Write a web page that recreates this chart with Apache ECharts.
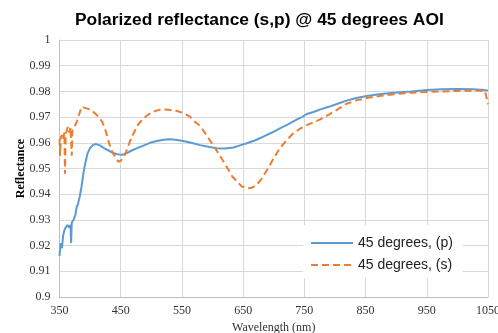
<!DOCTYPE html>
<html>
<head>
<meta charset="utf-8">
<script src="https://cdn.jsdelivr.net/npm/echarts@6/dist/echarts.min.js"></script>
<style>html,body{margin:0;padding:0;background:#fff}#c{width:498px;height:333px}</style>
</head>
<body>
<div id="c"></div>
<script>
var title = 'Polarized reflectance (s,p) @ 45 degrees AOI';
var seriesNames = ['45 degrees, (p)', '45 degrees, (s)'];
var xTicks = [350, 450, 550, 650, 750, 850, 950, 1050];
var yTicks = [0.9, 0.91, 0.92, 0.93, 0.94, 0.95, 0.96, 0.97, 0.98, 0.99, 1];

var wavelengthP = [350,352,354,356,358,360,363,366,368,369,370,373,376,378,380,383,386,389,392,396,400,405,410,416,422,430,438,445,452,460,468,478,488,498,509,520,530,540,552,565,580,595,607,620,634,645,656,670,683,697,710,724,738,746,754,765,776,790,803,819,835,852,875,901,925,950,975,1000,1025,1045,1050];
var reflectP = [0.916,0.921,0.919,0.924,0.926,0.927,0.928,0.927,0.928,0.921,0.929,0.930,0.932,0.935,0.936,0.939,0.943,0.948,0.952,0.956,0.958,0.9592,0.9595,0.959,0.958,0.957,0.956,0.9555,0.9553,0.956,0.957,0.958,0.959,0.960,0.9607,0.9612,0.9614,0.9612,0.9607,0.960,0.9591,0.9584,0.9579,0.9578,0.9582,0.959,0.9598,0.961,0.9624,0.964,0.9656,0.9673,0.9691,0.970,0.9712,0.972,0.973,0.974,0.9751,0.9764,0.9774,0.9782,0.979,0.9796,0.980,0.9805,0.9808,0.9809,0.9808,0.9805,0.9803];

var wavelengthS = [350,351,352,354,356,358,359,360,362,364,366,368,370,371,374,378,382,386,390,394,400,405,410,416,420,424,428,432,437,441,446,450,455,460,465,471,478,487,495,503,512,522,532,542,552,563,572,580,590,601,612,623,632,640,648,656,664,672,680,689,700,710,721,732,743,754,765,776,790,803,819,835,852,875,901,925,950,975,1000,1025,1045,1048,1050];
var reflectS = [0.9615,0.955,0.962,0.963,0.961,0.964,0.948,0.963,0.965,0.9663,0.964,0.966,0.955,0.965,0.966,0.968,0.971,0.974,0.9737,0.9734,0.973,0.9721,0.971,0.9695,0.968,0.9656,0.9625,0.9591,0.956,0.9546,0.9526,0.953,0.9545,0.9572,0.9605,0.9637,0.967,0.9695,0.971,0.9721,0.9728,0.973,0.9728,0.9724,0.9716,0.9702,0.968,0.9665,0.963,0.9591,0.955,0.9507,0.947,0.9449,0.943,0.9423,0.9425,0.9436,0.946,0.9494,0.954,0.9579,0.961,0.9637,0.9655,0.9669,0.968,0.9691,0.971,0.9728,0.9752,0.9765,0.9774,0.9783,0.979,0.9795,0.9798,0.980,0.9802,0.9803,0.9802,0.980,0.975];

function pairs(xs, ys) { return xs.map(function (x, i) { return [x, ys[i]]; }); }

var chart = echarts.init(document.getElementById('c'), null, {renderer: 'canvas'});
chart.setOption({
  animation: false,
  backgroundColor: '#fff',
  title: {
    text: title, left: 70, top: 7,
    textStyle: {fontFamily: 'Liberation Sans', fontWeight: 'bold', fontSize: 17.4, color: '#000'}
  },
  grid: {left: 59.5, right: 10, top: 40, bottom: 36, outerBoundsMode: 'none', containLabel: false},
  legend: {
    orient: 'vertical', left: 303, top: 225,
    padding: [11, 10, 6, 7], itemGap: 8, itemWidth: 42, itemHeight: 14,
    backgroundColor: '#fff',
    itemStyle: {opacity: 0},
    textStyle: {fontFamily: 'Liberation Sans', fontSize: 14, color: '#222'},
    data: seriesNames
  },
  xAxis: {
    type: 'value', min: xTicks[0], max: xTicks[xTicks.length - 1], interval: 100,
    name: 'Wavelength (nm)', nameLocation: 'middle', nameGap: 25, nameMoveOverlap: false,
    nameTextStyle: {fontFamily: 'Liberation Serif', fontSize: 12, color: '#333'},
    axisLine: {lineStyle: {color: '#bfbfbf'}},
    axisTick: {show: false},
    axisLabel: {fontFamily: 'Liberation Serif', fontSize: 12, color: '#333', margin: 8,
      formatter: function (v) { return String(v); }},
    splitLine: {show: true, lineStyle: {color: '#d9d9d9'}}
  },
  yAxis: {
    type: 'value', min: yTicks[0], max: yTicks[yTicks.length - 1], interval: 0.01,
    name: 'Reflectance', nameLocation: 'middle', nameGap: 33, nameMoveOverlap: false,
    nameTextStyle: {fontFamily: 'Liberation Serif', fontSize: 12, fontWeight: 'bold', color: '#000'},
    axisLine: {show: true, lineStyle: {color: '#bfbfbf'}},
    axisTick: {show: false},
    axisLabel: {fontFamily: 'Liberation Serif', fontSize: 12, color: '#333', margin: 9,
      formatter: function (v) { return String(+v.toFixed(2)); }},
    splitLine: {show: true, lineStyle: {color: '#d9d9d9'}}
  },
  series: [
    {
      name: seriesNames[0], type: 'line', symbol: 'none', showSymbol: false,
      data: pairs(wavelengthP, reflectP),
      lineStyle: {color: '#5B9BD5', width: 2},
      itemStyle: {color: '#5B9BD5'}
    },
    {
      name: seriesNames[1], type: 'line', symbol: 'none', showSymbol: false,
      data: pairs(wavelengthS, reflectS),
      lineStyle: {color: '#ED7D31', width: 2, type: [7, 4]},
      itemStyle: {color: '#ED7D31'}
    }
  ]
});
</script>
</body>
</html>
